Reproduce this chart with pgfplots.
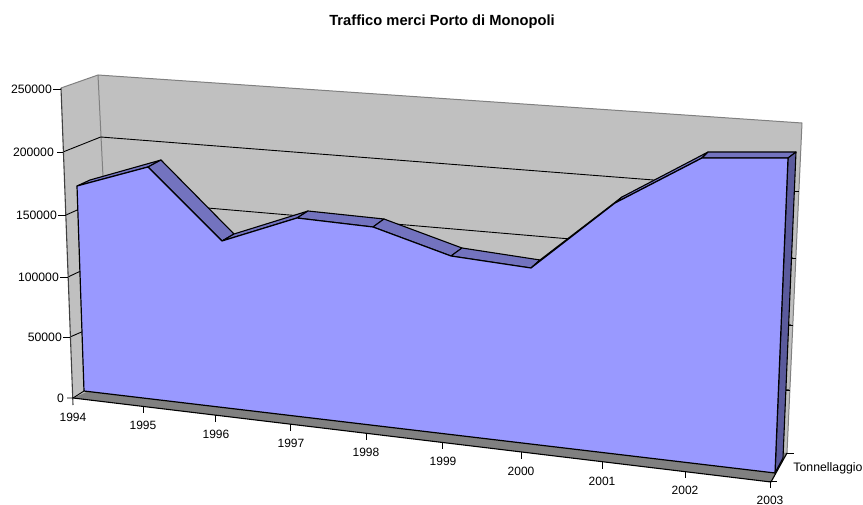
\documentclass[border=0pt]{standalone}
\usepackage{pgfplots}
\pgfplotsset{compat=1.18}
\usepackage{fontspec}
\setmainfont{Liberation Sans}
\definecolor{wall}{HTML}{C0C0C0}
\definecolor{wedge}{HTML}{808080}
\definecolor{floorc}{HTML}{808080}
\definecolor{front}{HTML}{9999FF}
\definecolor{topf}{HTML}{7373BF}
\definecolor{sidef}{HTML}{5A5A9C}
\begin{document}
\begin{tikzpicture}
\begin{axis}[
  width=863pt,height=505pt,scale only axis,
  xmin=0,xmax=863,ymin=0,ymax=505,y dir=reverse,
  hide axis,clip=false,
  every axis plot/.append style={line join=round,no markers},
]
\path[use as bounding box] (axis cs:0,0) rectangle (axis cs:863,505);
% walls
\addplot[fill=wall,draw=none] coordinates {(61,88)(98,75)(113,380)(73,398)} -- cycle;
\addplot[fill=wall,draw=none] coordinates {(98,75)(802,123)(787,453)(113,380)} -- cycle;
\addplot[wedge,line width=1pt] coordinates {(61,88)(98,75)(802,123)(787,453)};
\addplot[wedge,line width=1pt] coordinates {(98,75)(113,380)};
% gridlines, left wall and back wall
\addplot[black,line width=0.9pt] coordinates {(63,152)(100.7,137)(795,191)};
\addplot[black,line width=0.9pt] coordinates {(66,215)(102,199)(793,258)};
\addplot[black,line width=0.9pt] coordinates {(68,277)(104,260)(791,325)};
\addplot[black,line width=0.9pt] coordinates {(70,337)(107,321)(789,390)};
% right wall ticks
\addplot[black,line width=0.9pt] coordinates {(794,191)(799,191)};
\addplot[black,line width=0.9pt] coordinates {(792,258)(796,258)};
\addplot[black,line width=0.9pt] coordinates {(789,325)(793,325)};
\addplot[black,line width=0.9pt] coordinates {(785,390)(790,390)};
\addplot[black,line width=0.9pt] coordinates {(787,453)(794,453)};
% floor
\addplot[fill=floorc,draw=none] coordinates {(73,398)(113,380)(787,453)(771,482)} -- cycle;
\addplot[black,line width=1.1pt] coordinates {(787,453)(771,482)(73,398)};
% left axis line and ticks
\addplot[black!75,line width=1.1pt] coordinates {(61,88)(73,405)};
\addplot[black,line width=0.9pt] coordinates {(53,89)(61,89)};
\addplot[black,line width=0.9pt] coordinates {(57,152)(63,152)};
\addplot[black,line width=0.9pt] coordinates {(58,215)(66,215)};
\addplot[black,line width=0.9pt] coordinates {(60,277)(68,277)};
\addplot[black,line width=0.9pt] coordinates {(63,337)(70,337)};
\addplot[black,line width=0.9pt] coordinates {(67,398)(73,398)(84,391)};
% x ticks
\addplot[black,line width=0.9pt] coordinates {(143,406)(143,413)};
\addplot[black,line width=0.9pt] coordinates {(215,415)(215,422)};
\addplot[black,line width=0.9pt] coordinates {(290,424)(290,431)};
\addplot[black,line width=0.9pt] coordinates {(366,433)(366,440)};
\addplot[black,line width=0.9pt] coordinates {(442,442)(442,449)};
\addplot[black,line width=0.9pt] coordinates {(521,452)(521,459)};
\addplot[black,line width=0.9pt] coordinates {(602,462)(602,469)};
\addplot[black,line width=0.9pt] coordinates {(685,471)(685,478)};
\addplot[black,line width=0.9pt] coordinates {(770,481)(770,488)};
\addplot[black,line width=0.9pt] coordinates {(769,481)(777,481)};
% top faces, one per segment
\addplot[fill=topf,draw=black,line width=1.1pt] coordinates {(77,186)(90,180)(161,160)(148,167)} -- cycle;
\addplot[fill=topf,draw=black,line width=1.1pt] coordinates {(148,167)(161,160)(234,234)(222,241)} -- cycle;
\addplot[fill=topf,draw=black,line width=1.1pt] coordinates {(222,241)(234,234)(308,211)(297,218)} -- cycle;
\addplot[fill=topf,draw=black,line width=1.1pt] coordinates {(297,218)(308,211)(384,219)(373,227)} -- cycle;
\addplot[fill=topf,draw=black,line width=1.1pt] coordinates {(373,227)(384,219)(462,248)(451,256)} -- cycle;
\addplot[fill=topf,draw=black,line width=1.1pt] coordinates {(451,256)(462,248)(540,260)(531,268)} -- cycle;
\addplot[fill=topf,draw=black,line width=1.1pt] coordinates {(531,268)(540,260)(622,197)(615,203)} -- cycle;
\addplot[fill=topf,draw=black,line width=1.1pt] coordinates {(615,203)(622,197)(708,152)(702,158)} -- cycle;
\addplot[fill=topf,draw=black,line width=1.1pt] coordinates {(702,158)(708,152)(796,152)(788,158)} -- cycle;
% right side
\addplot[fill=sidef,draw=black,line width=1.1pt] coordinates {(788,158)(796,152)(783,458)(775,473)} -- cycle;
% front face
\addplot[fill=front,draw=black,line width=1.2pt] coordinates {(84,391)(77,186)(148,167)(222,241)(297,218)(373,227)(451,256)(531,268)(615,203)(702,158)(788,158)(775,473)} -- cycle;
% text
\node[font=\fontsize{14.7}{17}\selectfont\bfseries,anchor=base,inner sep=0pt] at (axis cs:442,26) {Traffico merci Porto di Monopoli};
\foreach \y/\x/\t in {89/52/250000,152/54/200000,215/57/150000,277/59/100000,337/62/50000,398/64/0}{
  \edef\temp{\noexpand\node[font=\noexpand\fontsize{12.2}{14}\noexpand\selectfont,anchor=east,inner sep=0pt] at (axis cs:\x,\y) {\t};}\temp
}
\foreach \x/\y/\t in {73/417/1994,143/425/1995,216/434/1996,291/443/1997,366/452/1998,443/461/1999,521/471/2000,602/481/2001,685/490/2002,770/500/2003}{
  \edef\temp{\noexpand\node[font=\noexpand\fontsize{12}{14}\noexpand\selectfont,anchor=center,inner sep=0pt] at (axis cs:\x,\y) {\t};}\temp
}
\node[font=\fontsize{12.3}{14}\selectfont,anchor=center,inner sep=0pt] at (axis cs:828,468) {Tonnellaggio};
\end{axis}
\end{tikzpicture}
\end{document}
